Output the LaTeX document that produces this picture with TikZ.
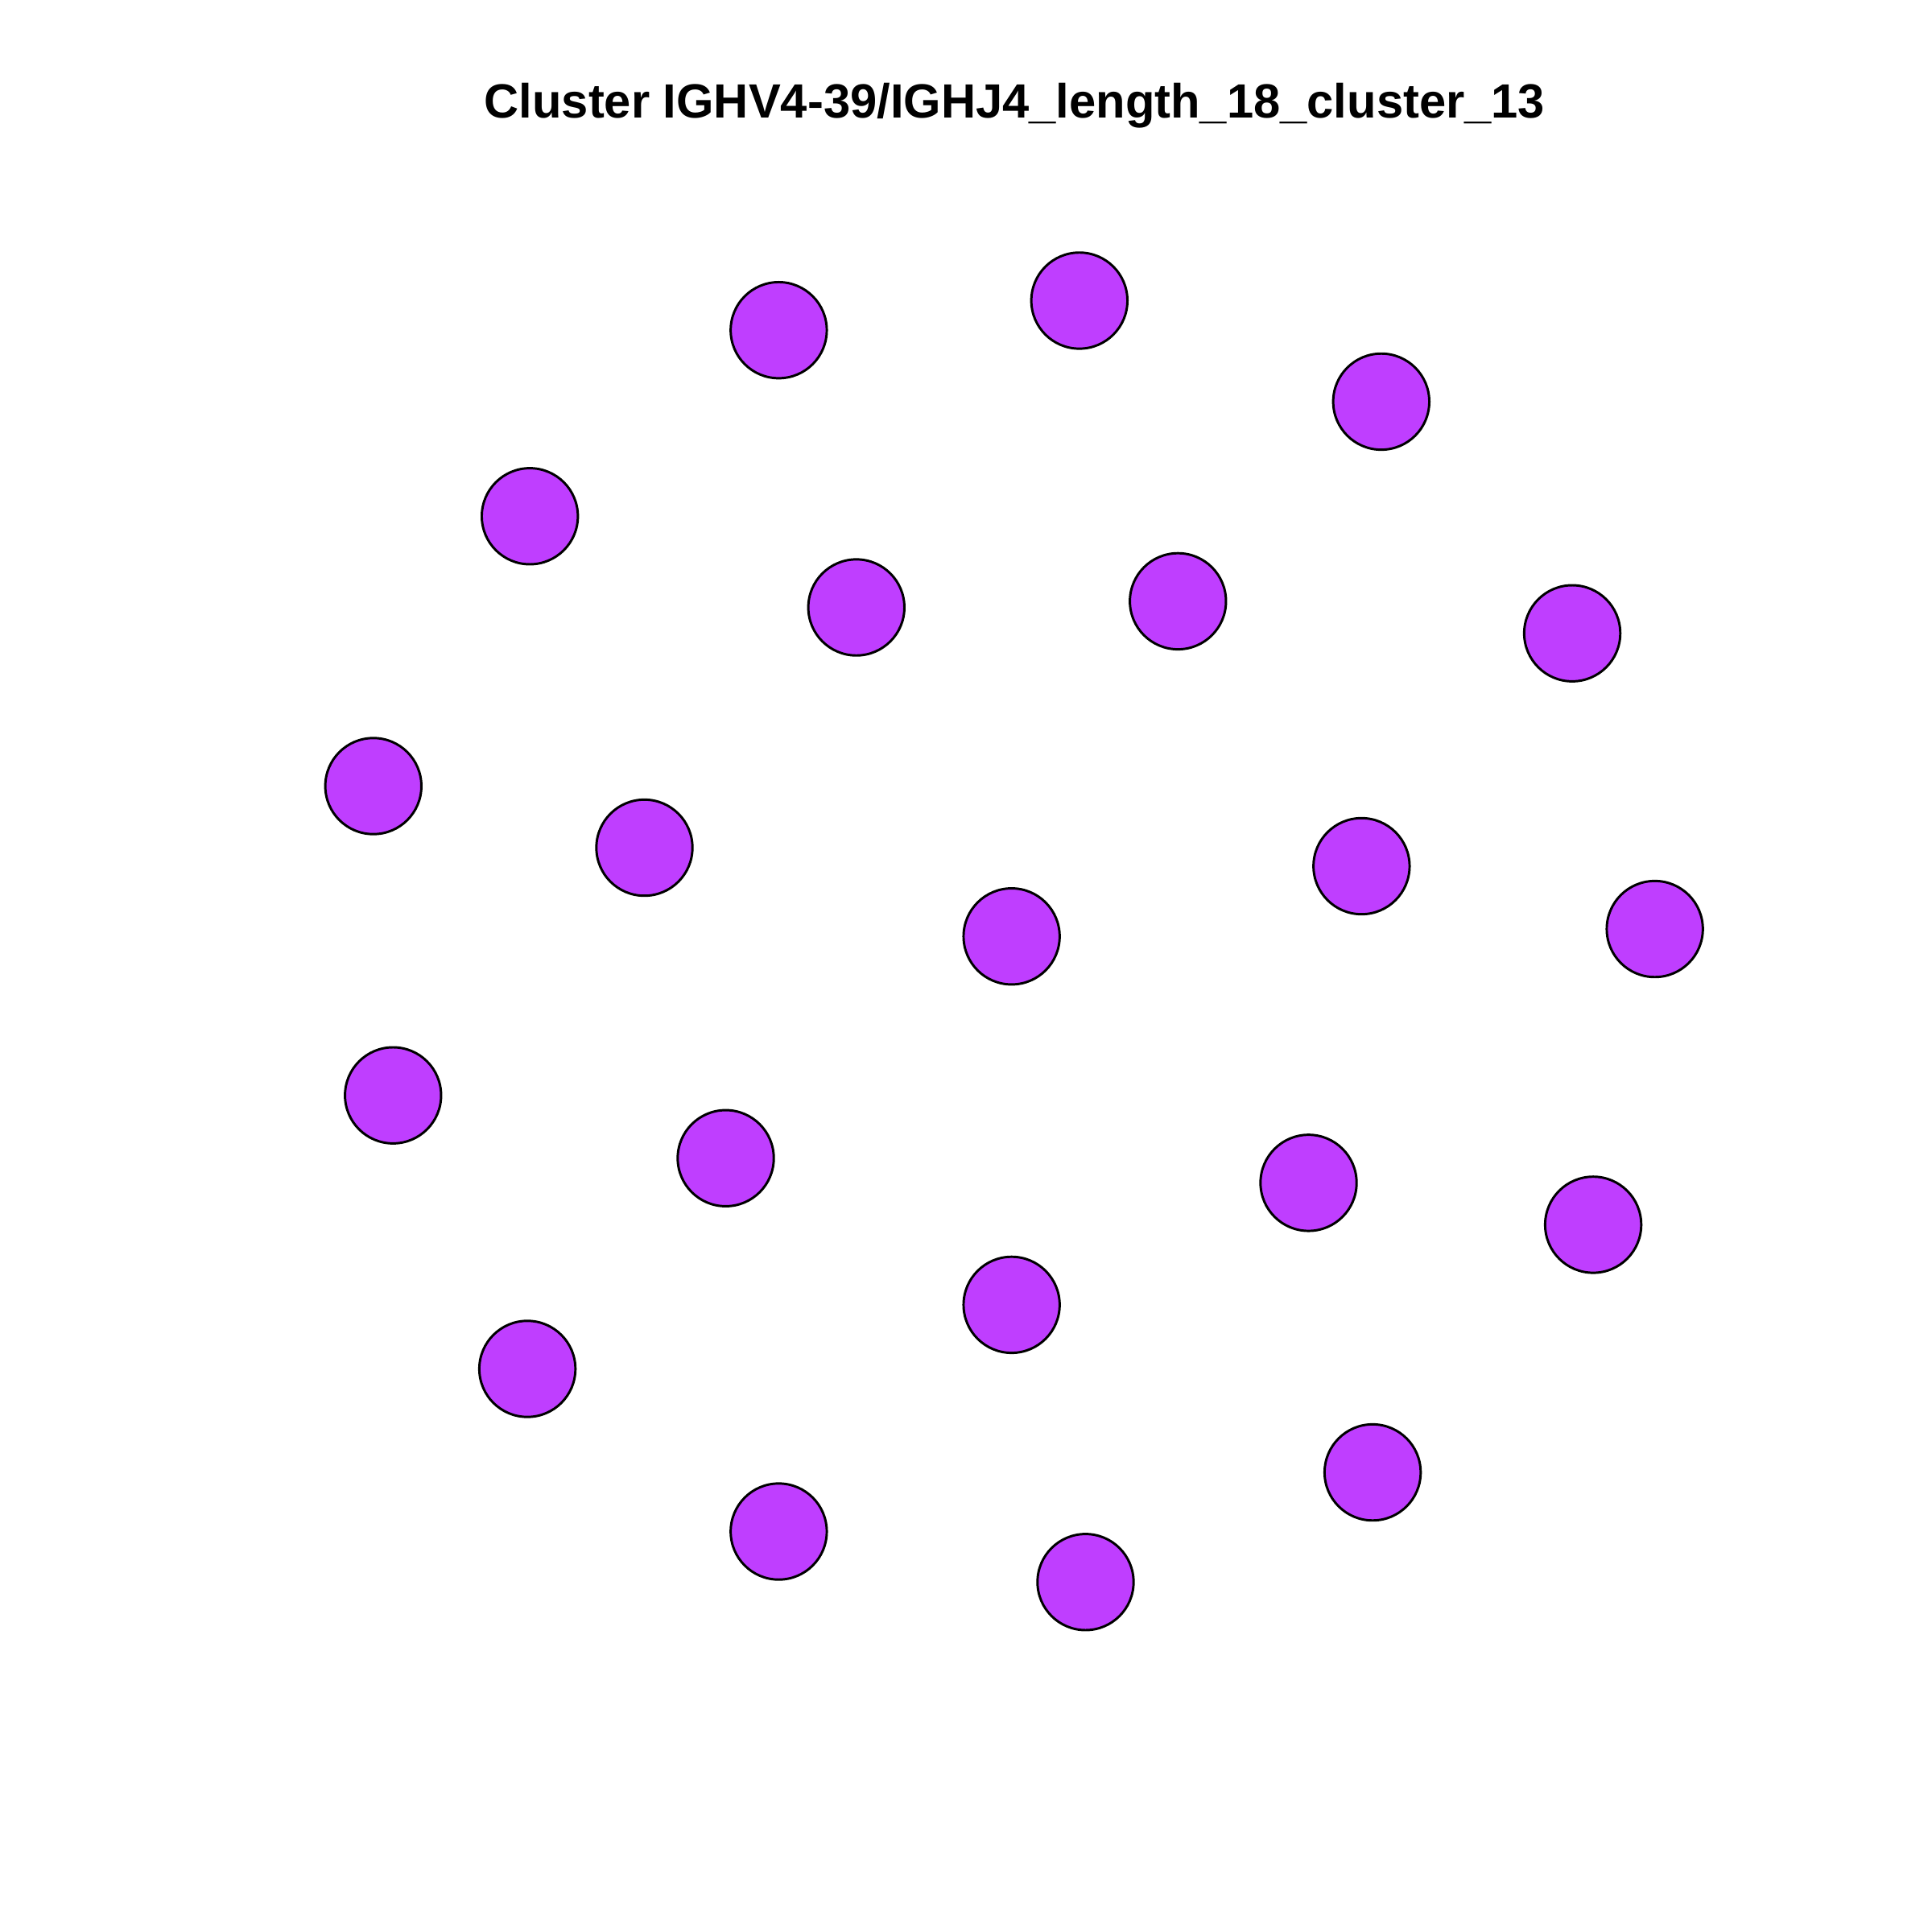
\documentclass[tikz,border=0pt]{standalone}
\usepackage{fontspec}
\setmainfont{Liberation Sans}
\usepackage{xcolor}
\definecolor{vtxpurple}{HTML}{BF3EFF}
\tikzset{vtx/.style={circle,draw=black,fill=vtxpurple,line width=0.55pt,minimum size=0.78cm,inner sep=0pt}}

\begin{document}
\begin{tikzpicture}
\useasboundingbox (0,0) rectangle (15.68,15.68);
\node [anchor=base] (title) at (8.235,14.72) {\fontsize{11.1pt}{13pt}\selectfont\bfseries Cluster IGHV4-39/IGHJ4\_length\_18\_cluster\_13};
\node [vtx] (v1) at (6.32,13.00) {};
\node [vtx] (v2) at (8.76,13.24) {};
\node [vtx] (v3) at (11.21,12.42) {};
\node [vtx] (v4) at (4.30,11.49) {};
\node [vtx] (v5) at (6.95,10.75) {};
\node [vtx] (v6) at (9.56,10.80) {};
\node [vtx] (v7) at (12.76,10.54) {};
\node [vtx] (v8) at (3.03,9.30) {};
\node [vtx] (v9) at (5.23,8.80) {};
\node [vtx] (v10) at (8.21,8.08) {};
\node [vtx] (v11) at (11.05,8.65) {};
\node [vtx] (v12) at (13.43,8.14) {};
\node [vtx] (v13) at (3.19,6.79) {};
\node [vtx] (v14) at (5.89,6.28) {};
\node [vtx] (v15) at (10.62,6.08) {};
\node [vtx] (v16) at (12.93,5.74) {};
\node [vtx] (v17) at (8.21,5.09) {};
\node [vtx] (v18) at (4.28,4.57) {};
\node [vtx] (v19) at (11.14,3.73) {};
\node [vtx] (v20) at (6.32,3.25) {};
\node [vtx] (v21) at (8.81,2.84) {};
\end{tikzpicture}
\end{document}
